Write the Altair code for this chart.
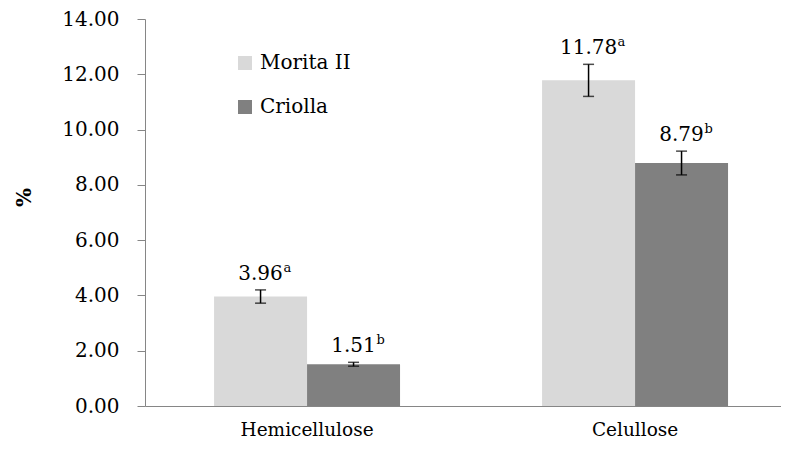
import altair as alt
import pandas as pd

categories = ["Hemicellulose", "Celullose"]
series = ["Morita II", "Criolla"]
morita_values = [3.96, 11.78]
criolla_values = [1.51, 8.79]
morita_errors = [0.24, 0.58]
criolla_errors = [0.07, 0.43]
morita_letters = ["a", "a"]
criolla_letters = ["b", "b"]
y_ticks = [0, 2, 4, 6, 8, 10, 12, 14]

rows = []
for i, c in enumerate(categories):
    for s, vals, errs, lets in [("Morita II", morita_values, morita_errors, morita_letters),
                                ("Criolla", criolla_values, criolla_errors, criolla_letters)]:
        v = vals[i]
        e = errs[i]
        rows.append({"cat": c, "series": s, "value": v, "lo": v - e, "hi": v + e,
                     "label": f"{v:.2f}", "sup": lets[i]})
df = pd.DataFrame(rows)

FONT = "DejaVu Serif"
FS = 20

xenc = alt.X("cat:N", sort=categories, title=None,
             scale=alt.Scale(paddingInner=0.433, paddingOuter=0.186, align=0.566),
             axis=alt.Axis(labelAngle=0, ticks=False, labelPadding=14, labelFontSize=18.5,
                           labelFont=FONT, labelColor="black", domainColor="#868686"))
xoff = alt.XOffset("series:N", sort=series, scale=alt.Scale(paddingInner=0, paddingOuter=0))
yscale = alt.Scale(domain=[0, 14], nice=False)

base = alt.Chart(df)

bars = base.mark_bar().encode(
    x=xenc,
    xOffset=xoff,
    y=alt.Y("value:Q", scale=yscale, title="%",
            axis=alt.Axis(values=y_ticks, format=".2f", grid=False, tickSize=8,
                          tickColor="#868686", domainColor="#868686", labelPadding=18,
                          labelFontSize=FS, labelFont=FONT, labelColor="black",
                          titleFont=FONT, titleFontSize=FS, titleFontWeight="bold",
                          titleColor="black", titleAngle=270, titleX=-121, titleY=178,
                          titleAlign="center", titleBaseline="middle")),
    color=alt.Color("series:N", sort=series,
                    scale=alt.Scale(domain=series, range=["#D9D9D9", "#808080"]),
                    legend=alt.Legend(title=None, orient="none", legendX=90, legendY=34,
                                      symbolType="square", symbolSize=196,
                                      symbolStrokeWidth=0, labelFontSize=FS,
                                      labelFont=FONT, labelColor="black",
                                      rowPadding=24, labelOffset=5)),
)

rules = base.mark_rule(color="black", strokeWidth=1.5).encode(
    x=alt.X("cat:N", sort=categories),
    xOffset=xoff,
    y=alt.Y("lo:Q", scale=yscale),
    y2="hi:Q",
)

caps_hi = base.mark_tick(color="black", thickness=1.5, size=11).encode(
    x=alt.X("cat:N", sort=categories), xOffset=xoff, y=alt.Y("hi:Q", scale=yscale))
caps_lo = base.mark_tick(color="black", thickness=1.5, size=11).encode(
    x=alt.X("cat:N", sort=categories), xOffset=xoff, y=alt.Y("lo:Q", scale=yscale))

labels = base.mark_text(font=FONT, fontSize=FS, color="black", baseline="alphabetic",
                        align="center", dy=-10).encode(
    x=alt.X("cat:N", sort=categories), xOffset=xoff,
    y=alt.Y("hi:Q", scale=yscale), text="label:N")

sup4 = base.transform_filter("length(datum.label) <= 4").mark_text(
    font=FONT, fontSize=13, color="black", baseline="alphabetic", align="left",
    dx=23, dy=-18).encode(
    x=alt.X("cat:N", sort=categories), xOffset=xoff,
    y=alt.Y("hi:Q", scale=yscale), text="sup:N")

sup5 = base.transform_filter("length(datum.label) > 4").mark_text(
    font=FONT, fontSize=13, color="black", baseline="alphabetic", align="left",
    dx=29, dy=-18).encode(
    x=alt.X("cat:N", sort=categories), xOffset=xoff,
    y=alt.Y("hi:Q", scale=yscale), text="sup:N")

chart = alt.layer(bars, rules, caps_hi, caps_lo, labels, sup4, sup5).properties(
    width=636, height=387,
    autosize=alt.AutoSizeParams(type="none"),
    padding={"left": 137, "top": 11, "right": 0, "bottom": 44},
).configure_view(stroke=None)

chart.save("out.html", embed_options={"renderer": "svg", "actions": False})
